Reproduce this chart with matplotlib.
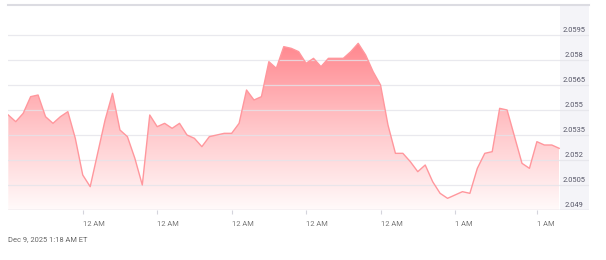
import numpy as np
import matplotlib
matplotlib.use("Agg")
import matplotlib.pyplot as plt
from matplotlib.colors import LinearSegmentedColormap
from matplotlib.patches import Polygon

# price readings, oldest first
prices = [2.0547, 2.0543, 2.0548, 2.0558, 2.0559, 2.0546, 2.0542, 2.0546, 2.0549, 2.0533,
          2.0511, 2.0504, 2.0524, 2.0544, 2.0560, 2.0538, 2.0534, 2.0521, 2.0505, 2.0547,
          2.0540, 2.0542, 2.0539, 2.0542, 2.0535, 2.0533, 2.0528, 2.0534, 2.0535, 2.0536,
          2.0536, 2.0542, 2.0562, 2.0556, 2.0558, 2.0579, 2.0575, 2.0588, 2.0587, 2.0585,
          2.0578, 2.0581, 2.0576, 2.0581, 2.0581, 2.0581, 2.0585, 2.0590, 2.0583, 2.0573,
          2.0565, 2.0541, 2.0524, 2.0524, 2.0519, 2.0513, 2.0517, 2.0507, 2.0500, 2.0497,
          2.0499, 2.0501, 2.0500, 2.0515, 2.0524, 2.0525, 2.0551, 2.0550, 2.0534, 2.0518,
          2.0515, 2.0531, 2.0529, 2.0529, 2.0527]

y_ticks = [2.049, 2.0505, 2.052, 2.0535, 2.055, 2.0565, 2.058, 2.0595]
y_labels = ["2.049", "2.0505", "2.052", "2.0535", "2.055", "2.0565", "2.058", "2.0595"]
x_ticks = [10, 20, 30, 40, 50, 60, 71]
x_labels = ["12 AM", "12 AM", "12 AM", "12 AM", "12 AM", "1 AM", "1 AM"]
stamp = "Dec 9, 2025 1:18 AM ET"

plt.rcParams["font.family"] = ["Roboto", "DejaVu Sans"]

x = np.arange(len(prices))
y = np.array(prices)

ymin, ymax = 2.049, 2.0613
xmin, xmax = -0.04, 78.0
panel_start = 74.09

fig = plt.figure(figsize=(6.06, 2.6), dpi=100)
ax = fig.add_axes([8 / 606, 50 / 260, 581 / 606, 205 / 260])
ax.set_xlim(xmin, xmax)
ax.set_ylim(ymin, ymax)

# price scale panel on the right
ax.axvspan(panel_start, xmax, color="#f4f4f8", zorder=0, lw=0)

# gradient fill under the line
cmap = LinearSegmentedColormap.from_list("fade", ["#fffafa", "#ffc6c9", "#ff878e"])
top = y.max()
grad = np.linspace(0, 1, 256).reshape(-1, 1)
im = ax.imshow(grad, cmap=cmap, aspect="auto", origin="lower",
               extent=[x[0], x[-1], ymin, top], zorder=1)
verts = [(x[0], ymin)] + list(zip(x, y)) + [(x[-1], ymin)]
clip = Polygon(verts, closed=True, transform=ax.transData)
im.set_clip_path(clip)

ax.plot(x, y, color="#ff979d", lw=1.0, zorder=3)

# horizontal grid
for v in y_ticks[1:]:
    ax.axhline(v, color="#e4e4ea", lw=0.9, alpha=0.8, zorder=2)
ax.axhline(ymin, color="#d4d4dc", lw=1.0, zorder=4)

for v, lab in zip(y_ticks, y_labels):
    ax.text((panel_start + xmax) / 2, v + 0.00006, lab, ha="center", va="bottom",
            fontsize=5.4, color="#555566", zorder=5)

for s in ax.spines.values():
    s.set_visible(False)
ax.spines["top"].set_visible(True)
ax.spines["top"].set_color("#dcdce2")
ax.spines["top"].set_linewidth(1.5)

ax.set_yticks([])
ax.set_xticks(x_ticks)
ax.set_xticklabels(x_labels, ha="left", fontsize=5.4, color="#777777")
ax.tick_params(axis="x", length=3, width=0.8, color="#d4d4dc", pad=5)

fig.text(8 / 606, 1 - 240 / 260, stamp, ha="left", va="center", fontsize=5.4, color="#666666")

fig.savefig("out.png", dpi=100)
